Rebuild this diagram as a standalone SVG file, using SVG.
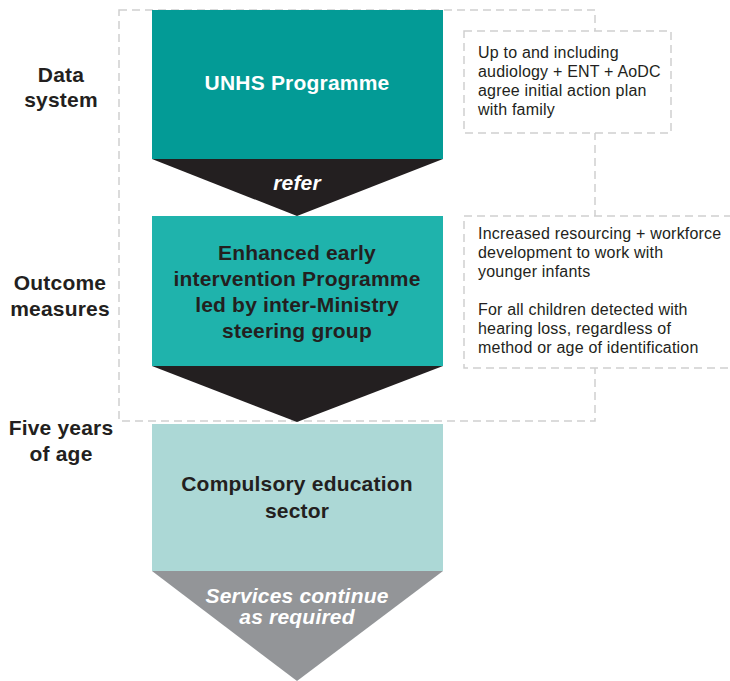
<svg xmlns="http://www.w3.org/2000/svg" width="730" height="681" viewBox="0 0 730 681">
<style>
.dash{fill:none;stroke:#cfcfcf;stroke-width:1.5;stroke-dasharray:8 5}
.note{fill:#fff;stroke:#cfcfcf;stroke-width:1.5;stroke-dasharray:8 5}
.lbl{font-family:"Liberation Sans",Arial,sans-serif;font-weight:bold;font-size:21px;letter-spacing:0.2px;fill:#231f20;text-anchor:middle}
.big{font-family:"Liberation Sans",Arial,sans-serif;font-weight:bold;font-size:21px;letter-spacing:0.2px;text-anchor:middle}
.it{font-style:italic}
.nt{font-family:"Liberation Sans",Arial,sans-serif;font-size:16px;letter-spacing:0.2px;fill:#231f20}
</style>
<rect width="730" height="681" fill="#fff"/>
<g id="frame">
<path class="dash" d="M119 10 H595 V421 H119 Z"/>
</g>
<g id="note1">
<rect class="note" x="464" y="31" width="207" height="102"/>
<text class="nt"><tspan x="478" y="58">Up to and including</tspan><tspan x="478" y="77">audiology + ENT + AoDC</tspan><tspan x="478" y="96">agree initial action plan</tspan><tspan x="478" y="115">with family</tspan></text>
</g>
<g id="note2">
<rect class="note" x="464" y="216" width="290" height="152"/>
<text class="nt"><tspan x="478" y="239">Increased resourcing + workforce</tspan><tspan x="478" y="258">development to work with</tspan><tspan x="478" y="277">younger infants</tspan><tspan x="478" y="315">For all children detected with</tspan><tspan x="478" y="334">hearing loss, regardless of</tspan><tspan x="478" y="353">method or age of identification</tspan></text>
</g>
<g id="labels">
<text class="lbl"><tspan x="61" y="82">Data</tspan><tspan x="61" y="107">system</tspan></text>
<text class="lbl"><tspan x="60" y="290">Outcome</tspan><tspan x="60" y="316">measures</tspan></text>
<text class="lbl"><tspan x="61" y="435">Five years</tspan><tspan x="61" y="461">of age</tspan></text>
</g>
<g id="connectors">
<polygon points="152,159 443,159 297,216" fill="#231f20"/>
<text class="big it" x="297" y="190" fill="#fff">refer</text>
<polygon points="152,366 443,366 297,422" fill="#231f20"/>
<polygon points="152,571 443,571 297,681" fill="#939598"/>
<text class="big it" fill="#fff"><tspan x="297" y="603">Services continue</tspan><tspan x="297" y="624">as required</tspan></text>
</g>
<g id="unhs">
<rect x="152" y="10" width="291" height="149" fill="#039b96"/>
<text class="big" x="297" y="90" fill="#fff">UNHS Programme</text>
</g>
<g id="early">
<rect x="152" y="216" width="291" height="150" fill="#1fb3ac"/>
<text class="big" fill="#231f20"><tspan x="297" y="260">Enhanced early</tspan><tspan x="297" y="286">intervention Programme</tspan><tspan x="297" y="312">led by inter-Ministry</tspan><tspan x="297" y="338">steering group</tspan></text>
</g>
<g id="education">
<rect x="152" y="424" width="291" height="147" fill="#acd8d6"/>
<text class="big" fill="#231f20"><tspan x="297" y="491">Compulsory education</tspan><tspan x="297" y="518">sector</tspan></text>
</g>
</svg>
